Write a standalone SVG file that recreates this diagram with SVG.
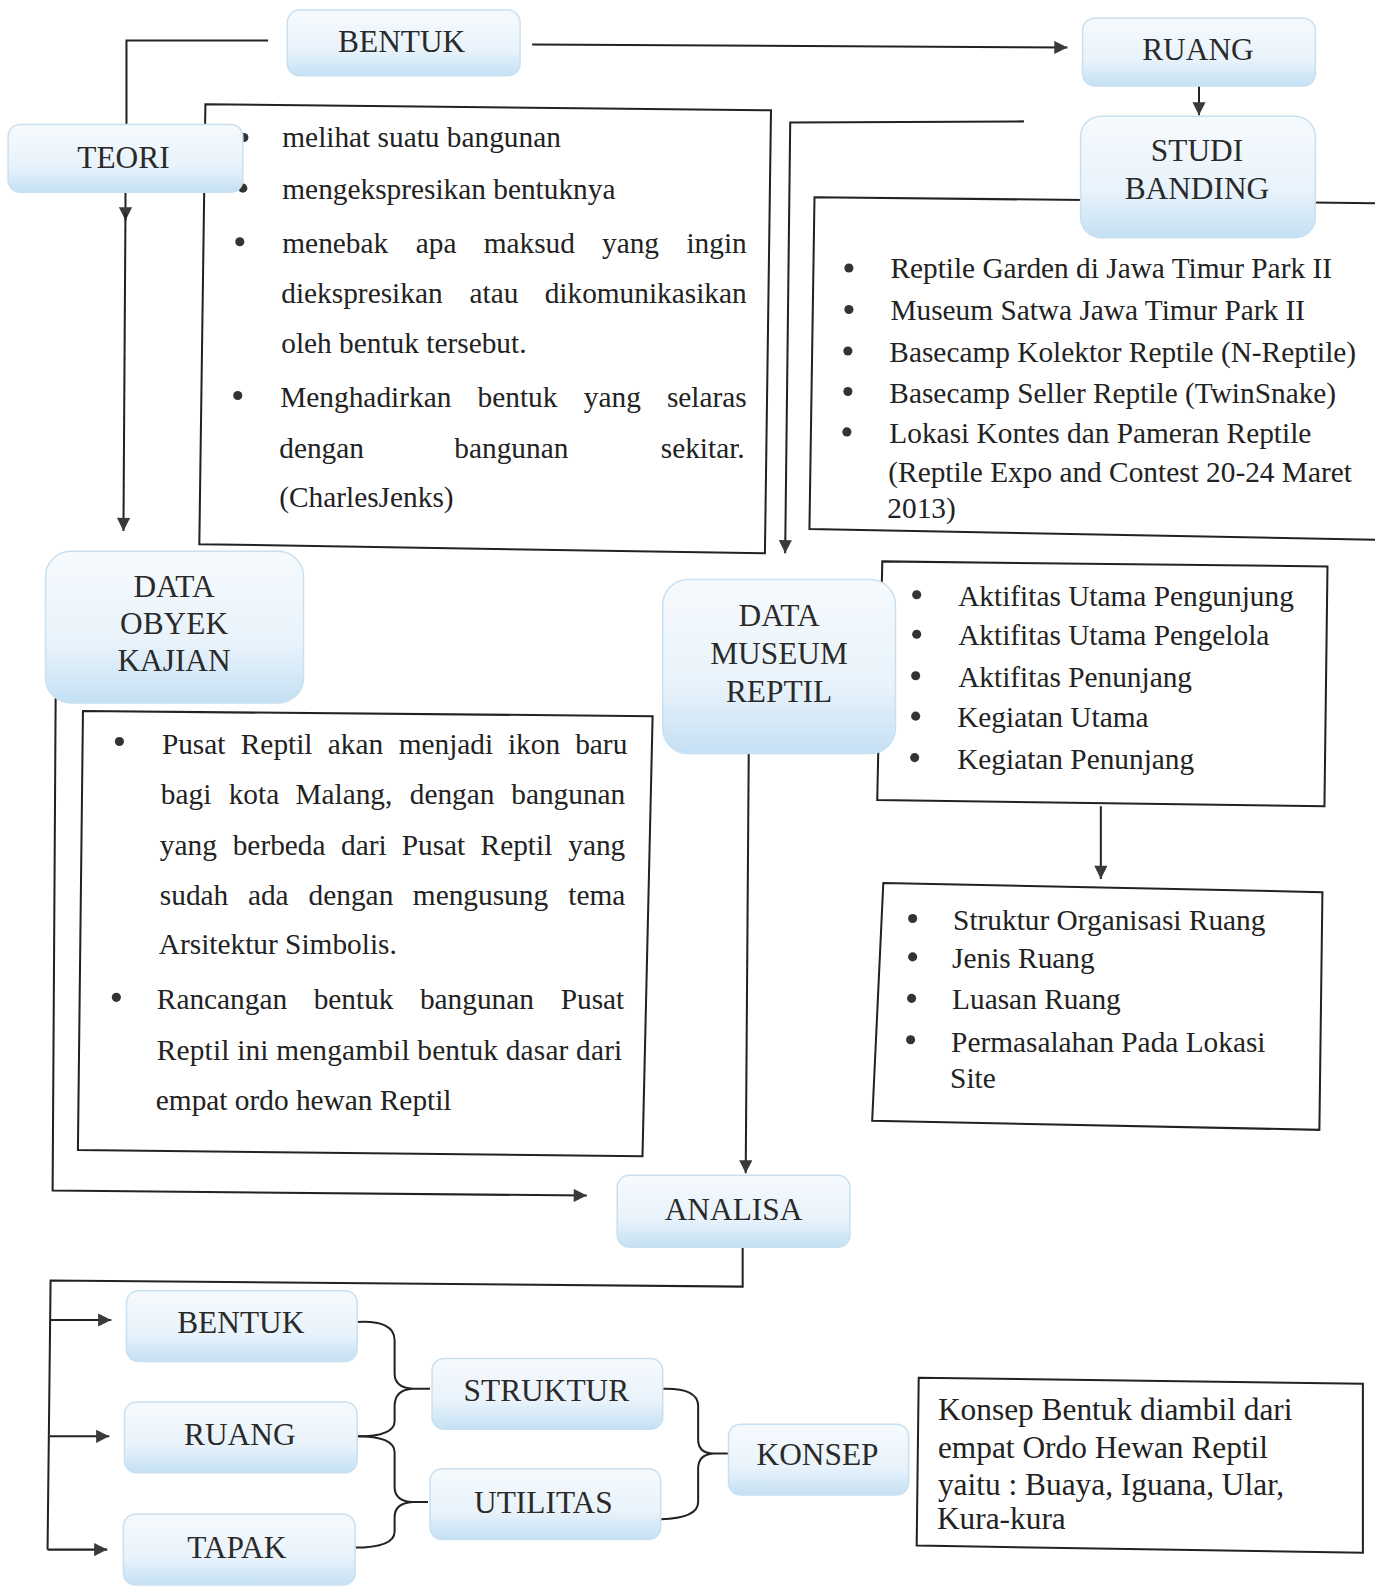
<svg xmlns="http://www.w3.org/2000/svg" width="1375" height="1586" viewBox="0 0 1375 1586">
<defs>
<linearGradient id="g" x1="0" y1="0" x2="0" y2="1">
<stop offset="0" stop-color="#f6fafd"/>
<stop offset="0.6" stop-color="#e9f3fb"/>
<stop offset="1" stop-color="#c4e0f4"/>
</linearGradient>
<marker id="ah" viewBox="0 0 10 10" refX="10" refY="5" markerWidth="15" markerHeight="13" markerUnits="userSpaceOnUse" orient="auto">
<path d="M0,0 L10,5 L0,10 z" fill="#3a3a3a"/>
</marker>
<style>
.nd{fill:url(#g);stroke:#c9e0f1;stroke-width:1.5}
.lbl{font-family:"Liberation Serif","Times New Roman",serif;font-size:31px;fill:#2a2a2a;text-anchor:middle}
.tx{font-family:"Liberation Serif","Times New Roman",serif;font-size:29px;fill:#222}
.tk{font-family:"Liberation Serif","Times New Roman",serif;font-size:31px;fill:#222}
.ln{fill:none;stroke:#222;stroke-width:2}
.bx{fill:#fff;stroke:#222;stroke-width:2}
.dot{fill:#333}
.e{text-anchor:end}
</style>
</defs>
<rect width="1375" height="1586" fill="#fff"/>
<g transform="scale(1.0118,1.0115)">
<g id="connectors">
<path class="ln" d="M125,123 L125,40 L265,40"/>
<path class="ln" d="M526,44 L1055,47" marker-end="url(#ah)"/>
<path class="ln" d="M1185,85 L1185,114" marker-end="url(#ah)"/>
<path class="ln" d="M124,190 L124,218" marker-end="url(#ah)"/>
<path class="ln" d="M124,210 L122,525" marker-end="url(#ah)"/>
<path class="ln" d="M1012,120 L781,121 L776,547" marker-end="url(#ah)"/>
<path class="ln" d="M1088,797 L1088,869" marker-end="url(#ah)"/>
<path class="ln" d="M55,690 L52,1177 L580,1182" marker-end="url(#ah)"/>
<path class="ln" d="M740,745 L737,1160" marker-end="url(#ah)"/>
<path class="ln" d="M734,1230 L734,1272 L50,1266 L47,1532"/>
<path class="ln" d="M50,1305 L110,1305" marker-end="url(#ah)"/>
<path class="ln" d="M49,1420 L108,1420" marker-end="url(#ah)"/>
<path class="ln" d="M47,1532 L106,1532" marker-end="url(#ah)"/>
<path class="ln" d="M353,1307 Q390,1305 390,1325 L390,1358 Q390,1372 408,1373 L425,1373 M408,1373 Q390,1374 390,1390 L390,1405 Q390,1420 353,1420"/>
<path class="ln" d="M353,1420 Q390,1420 390,1436 L390,1470 Q390,1484 408,1485 L423,1485 M408,1485 Q390,1486 390,1500 L390,1514 Q390,1530 350,1530"/>
<path class="ln" d="M655,1373 Q690,1372 690,1390 L690,1423 Q690,1437 705,1437 L720,1437 M705,1437 Q690,1438 690,1452 L690,1485 Q690,1501 653,1502"/>
</g>
<g id="teori-text">
<path class="bx" d="M203,103 L762,109 L756,547 L197,538 Z"/>
<circle class="dot" cx="241" cy="136" r="4.5"/>
<circle class="dot" cx="240" cy="186" r="4.5"/>
<circle class="dot" cx="237" cy="239" r="4.5"/>
<circle class="dot" cx="235" cy="391" r="4.5"/>
<text class="tx" x="279" y="145">melihat suatu bangunan</text>
<text class="tx" x="279" y="197">mengekspresikan bentuknya</text>
<text class="tx" y="250"><tspan x="279">menebak</tspan><tspan x="411">apa</tspan><tspan x="478">maksud</tspan><tspan x="595">yang</tspan><tspan x="738" class="e">ingin</tspan></text>
<text class="tx" y="300"><tspan x="278">diekspresikan</tspan><tspan x="464">atau</tspan><tspan x="738" class="e">dikomunikasikan</tspan></text>
<text class="tx" x="278" y="349">oleh bentuk tersebut.</text>
<text class="tx" y="402"><tspan x="277">Menghadirkan</tspan><tspan x="472">bentuk</tspan><tspan x="577">yang</tspan><tspan x="738" class="e">selaras</tspan></text>
<text class="tx" y="453"><tspan x="276">dengan</tspan><tspan x="449">bangunan</tspan><tspan x="736" class="e">sekitar.</tspan></text>
<text class="tx" x="276" y="501">(CharlesJenks)</text>
</g>
<g id="studi-text">
<path class="bx" d="M1375,201 L805,195 L800,523 L1375,534"/>
<circle class="dot" cx="839" cy="265" r="4.5"/>
<circle class="dot" cx="839" cy="306" r="4.5"/>
<circle class="dot" cx="838" cy="347" r="4.5"/>
<circle class="dot" cx="838" cy="387" r="4.5"/>
<circle class="dot" cx="837" cy="427" r="4.5"/>
<text class="tx" x="880" y="275">Reptile Garden di Jawa Timur Park II</text>
<text class="tx" x="880" y="316">Museum Satwa Jawa Timur Park II</text>
<text class="tx" x="879" y="358">Basecamp Kolektor Reptile (N-Reptile)</text>
<text class="tx" x="879" y="398">Basecamp Seller Reptile (TwinSnake)</text>
<text class="tx" x="879" y="438">Lokasi Kontes dan Pameran Reptile</text>
<text class="tx" x="878" y="477">(Reptile Expo and Contest 20-24 Maret</text>
<text class="tx" x="877" y="512">2013)</text>
</g>
<g id="museum-text">
<path class="bx" d="M872,555 L1312,560 L1309,797 L867,791 Z"/>
<circle class="dot" cx="906" cy="588" r="4.5"/>
<circle class="dot" cx="906" cy="627" r="4.5"/>
<circle class="dot" cx="905" cy="668" r="4.5"/>
<circle class="dot" cx="905" cy="708" r="4.5"/>
<circle class="dot" cx="904" cy="749" r="4.5"/>
<text class="tx" x="947" y="599">Aktifitas Utama Pengunjung</text>
<text class="tx" x="947" y="638">Aktifitas Utama Pengelola</text>
<text class="tx" x="947" y="679">Aktifitas Penunjang</text>
<text class="tx" x="946" y="719">Kegiatan Utama</text>
<text class="tx" x="946" y="760">Kegiatan Penunjang</text>
</g>
<g id="ruang-text">
<path class="bx" d="M873,873 L1307,882 L1304,1117 L862,1108 Z"/>
<circle class="dot" cx="902" cy="908" r="4.5"/>
<circle class="dot" cx="902" cy="946" r="4.5"/>
<circle class="dot" cx="901" cy="987" r="4.5"/>
<circle class="dot" cx="900" cy="1028" r="4.5"/>
<text class="tx" x="942" y="919">Struktur Organisasi Ruang</text>
<text class="tx" x="941" y="957">Jenis Ruang</text>
<text class="tx" x="941" y="998">Luasan Ruang</text>
<text class="tx" x="940" y="1040">Permasalahan Pada Lokasi</text>
<text class="tx" x="939" y="1076">Site</text>
</g>
<g id="obyek-text">
<path class="bx" d="M82,703 L645,708 L635,1143 L77,1137 Z"/>
<circle class="dot" cx="118" cy="733" r="4.5"/>
<circle class="dot" cx="115" cy="986" r="4.5"/>
<text class="tx" y="745"><tspan x="160">Pusat</tspan><tspan x="238">Reptil</tspan><tspan x="324">akan</tspan><tspan x="394">menjadi</tspan><tspan x="502">ikon</tspan><tspan x="620" class="e">baru</tspan></text>
<text class="tx" y="795"><tspan x="159">bagi</tspan><tspan x="226">kota</tspan><tspan x="292">Malang,</tspan><tspan x="405">dengan</tspan><tspan x="618" class="e">bangunan</tspan></text>
<text class="tx" y="845"><tspan x="158">yang</tspan><tspan x="230">berbeda</tspan><tspan x="337">dari</tspan><tspan x="397">Pusat</tspan><tspan x="475">Reptil</tspan><tspan x="618" class="e">yang</tspan></text>
<text class="tx" y="895"><tspan x="158">sudah</tspan><tspan x="245">ada</tspan><tspan x="305">dengan</tspan><tspan x="408">mengusung</tspan><tspan x="618" class="e">tema</tspan></text>
<text class="tx" x="157" y="943">Arsitektur Simbolis.</text>
<text class="tx" y="998"><tspan x="155">Rancangan</tspan><tspan x="310">bentuk</tspan><tspan x="415">bangunan</tspan><tspan x="617" class="e">Pusat</tspan></text>
<text class="tx" x="155" y="1048" textLength="460">Reptil ini mengambil bentuk dasar dari</text>
<text class="tx" x="154" y="1097">empat ordo hewan Reptil</text>
</g>
<g id="konsep-text">
<path class="bx" d="M908,1362 L1347,1368 L1347,1535 L906,1528 Z"/>
<text class="tk" x="927" y="1404">Konsep Bentuk diambil dari</text>
<text class="tk" x="927" y="1441">empat Ordo Hewan Reptil</text>
<text class="tk" x="927" y="1478">yaitu : Buaya, Iguana, Ular,</text>
<text class="tk" x="926" y="1512">Kura-kura</text>
</g>
<g id="node-bentuk">
<rect class="nd" x="284" y="10" width="230" height="65" rx="12"/>
<text class="lbl" x="397" y="51">BENTUK</text>
</g>
<g id="node-ruang">
<rect class="nd" x="1070" y="18" width="230" height="67" rx="12"/>
<text class="lbl" x="1184" y="59">RUANG</text>
</g>
<g id="node-studi-banding">
<rect class="nd" x="1068" y="115" width="232" height="120" rx="20"/>
<text class="lbl" x="1183" y="159">STUDI</text>
<text class="lbl" x="1183" y="197">BANDING</text>
</g>
<g id="node-teori">
<rect class="nd" x="8" y="123" width="232" height="67" rx="12"/>
<text class="lbl" x="122" y="166">TEORI</text>
</g>
<g id="node-data-obyek">
<rect class="nd" x="45" y="545" width="255" height="150" rx="25"/>
<text class="lbl" x="172" y="590">DATA</text>
<text class="lbl" x="172" y="627">OBYEK</text>
<text class="lbl" x="172" y="663">KAJIAN</text>
</g>
<g id="node-data-museum">
<rect class="nd" x="655" y="573" width="230" height="172" rx="25"/>
<text class="lbl" x="770" y="619">DATA</text>
<text class="lbl" x="770" y="656">MUSEUM</text>
<text class="lbl" x="770" y="694">REPTIL</text>
</g>
<g id="node-analisa">
<rect class="nd" x="610" y="1162" width="230" height="71" rx="12"/>
<text class="lbl" x="725" y="1206">ANALISA</text>
</g>
<g id="node-bentuk2">
<rect class="nd" x="125" y="1276" width="228" height="70" rx="12"/>
<text class="lbl" x="238" y="1318">BENTUK</text>
</g>
<g id="node-ruang2">
<rect class="nd" x="123" y="1386" width="230" height="70" rx="12"/>
<text class="lbl" x="237" y="1429">RUANG</text>
</g>
<g id="node-tapak">
<rect class="nd" x="122" y="1497" width="229" height="70" rx="12"/>
<text class="lbl" x="234" y="1540">TAPAK</text>
</g>
<g id="node-struktur">
<rect class="nd" x="427" y="1343" width="228" height="70" rx="12"/>
<text class="lbl" x="540" y="1385">STRUKTUR</text>
</g>
<g id="node-utilitas">
<rect class="nd" x="425" y="1452" width="228" height="70" rx="12"/>
<text class="lbl" x="537" y="1496">UTILITAS</text>
</g>
<g id="node-konsep">
<rect class="nd" x="720" y="1408" width="178" height="70" rx="12"/>
<text class="lbl" x="808" y="1448">KONSEP</text>
</g>
</g>
</svg>
